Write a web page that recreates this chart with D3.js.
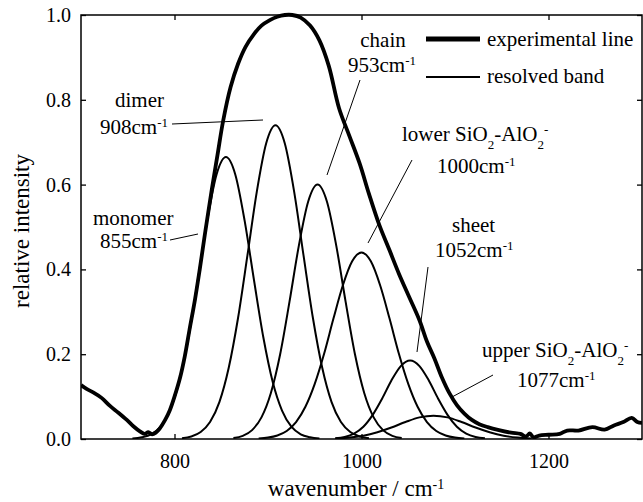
<!DOCTYPE html>
<html>
<head>
<meta charset="utf-8">
<script src="https://cdn.jsdelivr.net/npm/d3@7"></script>
<style>
  html, body { margin: 0; padding: 0; background: #fff; }
  svg text { font-family: "Liberation Serif", "Times New Roman", Times, "DejaVu Serif", serif !important; fill: #000; }
</style>
</head>
<body>
<svg id="chart" width="643" height="502" font-family="Liberation Serif, Times New Roman, serif"></svg>
<script>
// ---- data (wavenumber cm-1, relative intensity) ----
const experimental = [[700,0.127],[706,0.118],[713,0.11],[722,0.097],[731,0.078],[740,0.062],[749,0.045],[756,0.03],[763,0.018],[768,0.012],[772,0.016],[776,0.011],[780,0.015],[784,0.024],[790,0.045],[795,0.068],[800,0.10],[806,0.145],[811,0.195],[816,0.257],[822,0.33],[827,0.40],[833,0.49],[840,0.59],[846,0.67],[852,0.75],[860,0.83],[868,0.885],[876,0.925],[885,0.955],[893,0.975],[902,0.988],[910,0.996],[918,1.0],[926,1.0],[935,0.994],[945,0.975],[955,0.94],[965,0.88],[976,0.78],[987,0.715],[998,0.65],[1008,0.578],[1019,0.505],[1030,0.445],[1040,0.39],[1051,0.335],[1062,0.28],[1070,0.23],[1078,0.19],[1086,0.145],[1094,0.108],[1102,0.08],[1110,0.06],[1118,0.045],[1126,0.035],[1135,0.028],[1147,0.021],[1160,0.015],[1170,0.012],[1176,0.006],[1180,0.013],[1184,0.004],[1190,0.008],[1200,0.01],[1212,0.012],[1220,0.02],[1232,0.02],[1247,0.028],[1260,0.022],[1270,0.032],[1280,0.04],[1289,0.05],[1295,0.04],[1300,0.038]];

const monomer = [[755,0.001],[765,0.004],[775,0.011],[785,0.029],[795,0.067],[805,0.135],[815,0.240],[825,0.375],[835,0.515],[845,0.624],[855,0.665],[865,0.624],[875,0.515],[885,0.375],[895,0.240],[905,0.135],[915,0.067],[925,0.029],[935,0.011],[945,0.004],[955,0.001]];
const dimer = [[808,0.002],[818,0.006],[828,0.0165],[838,0.040],[848,0.087],[858,0.168],[868,0.286],[878,0.433],[888,0.583],[898,0.697],[908,0.74],[918,0.697],[928,0.583],[938,0.433],[948,0.286],[958,0.168],[968,0.087],[978,0.040],[988,0.0165],[998,0.006],[1008,0.002]];
const chain = [[863,0.0023],[873,0.0074],[883,0.021],[893,0.051],[903,0.108],[913,0.200],[923,0.324],[933,0.456],[943,0.560],[953,0.60],[963,0.560],[973,0.456],[983,0.324],[993,0.200],[1003,0.108],[1013,0.051],[1023,0.021],[1033,0.0074],[1043,0.0023]];
const lowerBand = [[890,0.0012],[900,0.0033],[910,0.0084],[920,0.019],[930,0.040],[940,0.076],[950,0.130],[960,0.201],[970,0.284],[980,0.362],[990,0.419],[1000,0.44],[1010,0.419],[1020,0.362],[1030,0.284],[1040,0.201],[1050,0.130],[1060,0.076],[1070,0.040],[1080,0.019],[1090,0.0084],[1100,0.0033],[1110,0.0012]];
const sheet = [[972,0.0016],[982,0.0049],[992,0.0129],[1002,0.029],[1012,0.057],[1022,0.095],[1032,0.138],[1042,0.172],[1052,0.185],[1062,0.172],[1072,0.138],[1082,0.095],[1092,0.057],[1102,0.029],[1112,0.0129],[1122,0.0049],[1132,0.0016]];
const upperBand = [[972,0.0012],[987,0.0033],[1002,0.0079],[1017,0.016],[1032,0.027],[1047,0.040],[1062,0.051],[1077,0.055],[1092,0.051],[1107,0.040],[1122,0.027],[1137,0.016],[1152,0.0079],[1167,0.0033],[1182,0.0012]];

const xTicks = [800, 1000, 1200];
const yTicks = [0, 0.2, 0.4, 0.6, 0.8, 1.0];
const legendLabels = ["experimental line", "resolved band"];

// ---- layout ----
const FONT = "Liberation Serif, Times New Roman, Times, DejaVu Serif, serif";
const svg = d3.select("#chart");
const L = 81, R = 642, T = 15, B = 439;
const x = d3.scaleLinear().domain([700, 1300]).range([L, R]);
const y = d3.scaleLinear().domain([0, 1]).range([B, T]);

// axes
const gx = svg.append("g").attr("transform", `translate(0,${B})`)
  .call(d3.axisBottom(x).tickValues(xTicks).tickSize(-5).tickPadding(15).tickFormat(d3.format("d")));
const gy = svg.append("g").attr("transform", `translate(${L},0)`)
  .call(d3.axisLeft(y).tickValues(yTicks).tickSize(-5).tickPadding(10).tickFormat(d3.format(".1f")));
const gt = svg.append("g").attr("transform", `translate(0,${T})`)
  .call(d3.axisTop(x).tickValues(xTicks).tickSize(-5).tickFormat(""));
const gr = svg.append("g").attr("transform", `translate(${R},0)`)
  .call(d3.axisRight(y).tickValues(yTicks).tickSize(-5).tickFormat(""));
[gx, gy, gt, gr].forEach(g => {
  g.attr("font-family", FONT).attr("font-size", 20);
  g.select(".domain").remove();
  g.selectAll(".tick line").attr("stroke", "#000").attr("stroke-width", 1.3);
  g.selectAll(".tick text").attr("font-family", FONT).style("font-size", "20px").attr("fill", "#000");
});

svg.append("rect").attr("x", L).attr("y", T).attr("width", R - L).attr("height", B - T)
  .attr("fill", "none").attr("stroke", "#000").attr("stroke-width", 1.5);

// axis titles
svg.append("text").attr("transform", `translate(21,${(T + B) / 2 + 4}) rotate(-90)`)
  .attr("font-family", FONT)
  .attr("text-anchor", "middle").attr("dy", "0.35em").style("font-size", "23px").text("relative intensity");
const xt = svg.append("text").attr("x", 356).attr("y", 496).attr("text-anchor", "middle")
  .attr("font-family", FONT).style("font-size", "23px");
xt.append("tspan").text("wavenumber / cm");
xt.append("tspan").attr("baseline-shift", "super").style("font-size", "14px").text("-1");

// clip
svg.append("clipPath").attr("id", "clip").append("rect")
  .attr("x", L).attr("y", T - 5).attr("width", R - L).attr("height", B - T + 5);
const plot = svg.append("g").attr("clip-path", "url(#clip)");

const line = d3.line().x(d => x(d[0])).y(d => y(d[1])).curve(d3.curveMonotoneX);
[monomer, dimer, chain, lowerBand, sheet, upperBand].forEach(b => {
  plot.append("path").datum(b).attr("d", line)
    .attr("fill", "none").attr("stroke", "#000").attr("stroke-width", 2);
});
plot.append("path").datum(experimental)
  .attr("d", d3.line().x(d => x(d[0])).y(d => y(d[1])).curve(d3.curveCatmullRom))
  .attr("fill", "none").attr("stroke", "#000").attr("stroke-width", 3.8).attr("stroke-linejoin", "round");

// annotations
function label(xp, yp, parts, anchor) {
  const t = svg.append("text").attr("x", xp).attr("y", yp).attr("text-anchor", anchor || "start")
    .attr("font-family", FONT).style("font-size", "21px");
  parts.forEach(p => {
    const s = t.append("tspan").text(p[0]);
    if (p[1] === "sub") s.attr("baseline-shift", "sub").style("font-size", "13px");
    if (p[1] === "sup") s.attr("baseline-shift", "super").style("font-size", "13px");
  });
}
function leader(x1, y1, x2, y2) {
  svg.append("line").attr("x1", x1).attr("y1", y1).attr("x2", x2).attr("y2", y2)
    .attr("stroke", "#000").attr("stroke-width", 1);
}
label(115, 107, [["dimer"]]);
label(100, 134, [["908cm"], ["-1", "sup"]]);
leader(172, 124, 263, 120);

label(93, 225, [["monomer"]]);
label(100, 248, [["855cm"], ["-1", "sup"]]);
leader(170, 240, 198, 234);

label(383, 47, [["chain"]], "middle");
label(348, 72, [["953cm"], ["-1", "sup"]]);
leader(360, 80, 327, 175);

label(402, 141, [["lower SiO"], ["2", "sub"], ["-AlO"], ["2", "sub"], ["-", "sup"]]);
label(437, 173, [["1000cm"], ["-1", "sup"]]);
leader(412, 160, 368, 243);

label(452, 232, [["sheet"]]);
label(435, 257, [["1052cm"], ["-1", "sup"]]);
leader(428, 267, 417, 352);

label(482, 357, [["upper SiO"], ["2", "sub"], ["-AlO"], ["2", "sub"], ["-", "sup"]]);
label(517, 387, [["1077cm"], ["-1", "sup"]]);
leader(493, 375, 452, 397);

// legend
svg.append("line").attr("x1", 426).attr("x2", 480).attr("y1", 39).attr("y2", 39).attr("stroke", "#000").attr("stroke-width", 5);
svg.append("line").attr("x1", 426).attr("x2", 480).attr("y1", 77).attr("y2", 77).attr("stroke", "#000").attr("stroke-width", 2);
label(487, 46, [[legendLabels[0]]]);
label(487, 83, [[legendLabels[1]]]);
</script>
</body>
</html>
